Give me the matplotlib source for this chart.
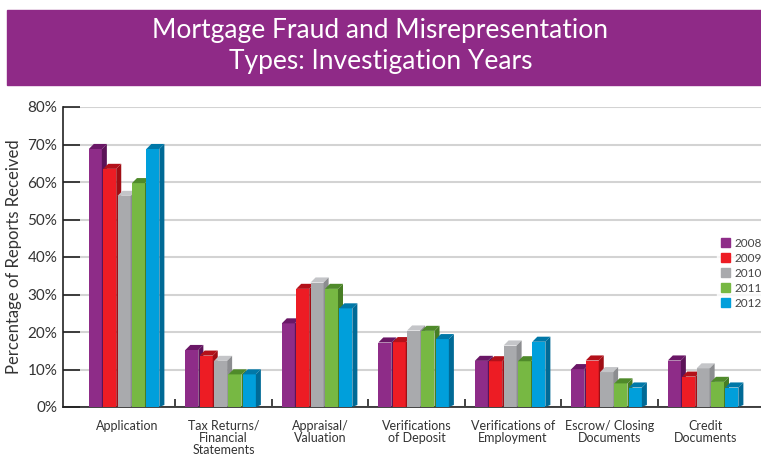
import matplotlib.pyplot as plt
from matplotlib.patches import Rectangle, Patch
import numpy as np

categories = ["Application", "Tax Returns/\nFinancial\nStatements", "Appraisal/\nValuation",
              "Verifications\nof Deposit", "Verifications of\nEmployment",
              "Escrow/ Closing\nDocuments", "Credit\nDocuments"]
years = ["2008", "2009", "2010", "2011", "2012"]

v2008 = [68.8, 15.2, 22.3, 17.2, 12.3, 10.1, 12.4]
v2009 = [63.5, 13.7, 31.5, 17.3, 12.2, 12.4, 8.1]
v2010 = [56.3, 12.3, 33.2, 20.4, 16.4, 9.3, 10.3]
v2011 = [59.7, 8.7, 31.5, 20.3, 12.2, 6.3, 6.7]
v2012 = [68.8, 8.7, 26.3, 18.1, 17.4, 5.2, 5.2]
series = [v2008, v2009, v2010, v2011, v2012]

front = ["#8E2C88", "#ED1C24", "#A9AAAD", "#77B843", "#009FDB"]
top_c = ["#6A1766", "#B3111A", "#C4C5C8", "#4F8A2A", "#0078A8"]
side_c = ["#5C1358", "#A00E15", "#8C8D90", "#477D24", "#006A96"]

plt.rcParams["font.family"] = ["Lato", "DejaVu Sans"]

fig = plt.figure(figsize=(7.61, 4.57), dpi=100)

# title banner
fig.patches.append(Rectangle((7 / 761, 1 - 85 / 457), 754 / 761, 75 / 457,
                             transform=fig.transFigure, color="#8F2A87", zorder=0))
fig.text(0.5, 1 - 46 / 457, "Mortgage Fraud and Misrepresentation\nTypes: Investigation Years",
         ha="center", va="center", color="white", fontsize=19, linespacing=1.3)

ax = fig.add_axes([63 / 761, 50 / 457, 698 / 761, 300 / 457])
ax.set_xlim(-0.663, 6.57)
ax.set_ylim(0, 80)

x = np.arange(len(categories))
pitch, width = 0.149, 0.135
dx, dy = 0.052, 1.35
offset = -0.03

for j, vals in enumerate(series):
    xs = x + offset + (j - 2) * pitch
    z = 3 + j
    ax.bar(xs, vals, width=width, color=front[j], zorder=z, linewidth=0)
    for xc, v in zip(xs, vals):
        l, r = xc - width / 2, xc + width / 2
        ax.fill([l, r, r + dx, l + dx], [v, v, v + dy, v + dy], color=top_c[j], zorder=z, linewidth=0)
        ax.fill([r, r + dx, r + dx, r], [0, dy * 0.4, v + dy, v], color=side_c[j], zorder=z, linewidth=0)

ax.set_yticks(np.arange(0, 81, 10))
ax.set_yticklabels([f"{t}%" for t in range(0, 81, 10)], fontsize=11, color="#333333")
ax.yaxis.grid(True, color="#D3D3D3", linewidth=1.5, zorder=0)
ax.set_axisbelow(True)
ax.tick_params(axis="y", direction="in", length=12, width=1.2, color="#222222", pad=4)

ax.set_xticks(x)
ax.set_xticklabels(categories, fontsize=9, color="#333333", linespacing=1.0)
ax.set_xticks(x[:-1] + 0.5, minor=True)
ax.tick_params(axis="x", which="major", length=0, pad=9)
ax.tick_params(axis="x", which="minor", direction="in", length=6, width=1.2, color="#222222")

for s in ["top", "right"]:
    ax.spines[s].set_visible(False)
ax.spines["left"].set_linewidth(1.2)
ax.spines["bottom"].set_linewidth(1.2)
ax.spines["left"].set_color("#222222")
ax.spines["bottom"].set_color("#222222")

ax.set_ylabel("Percentage of Reports Received", fontsize=12, color="#333333", labelpad=4)

handles = [Patch(color=c, label=y) for c, y in zip(front, years)]
leg = fig.legend(handles=handles, loc="upper left", bbox_to_anchor=(717 / 761, 1 - 234 / 457),
                 frameon=True, fontsize=8.5, handlelength=0.8, handleheight=0.8,
                 handletextpad=0.4, labelspacing=0.35, borderpad=0.3, borderaxespad=0)
leg.get_frame().set_facecolor("white")
leg.get_frame().set_edgecolor("white")
for t in leg.get_texts():
    t.set_color("#444444")

fig.savefig("out.png", dpi=100)
